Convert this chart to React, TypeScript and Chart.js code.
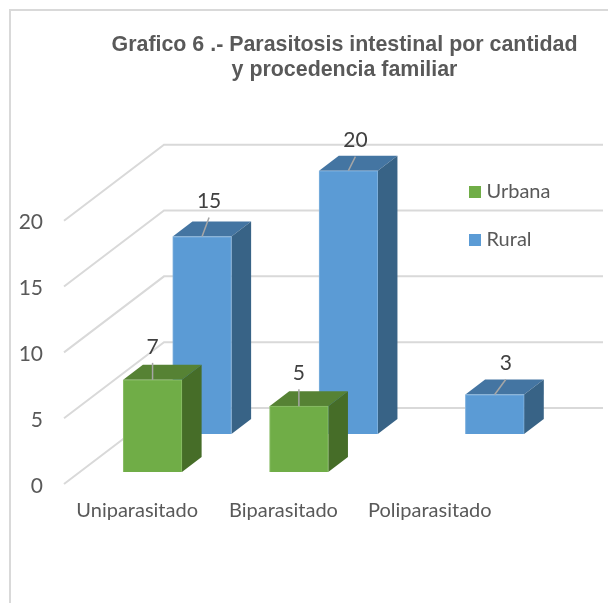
import React, { useEffect, useRef } from "react";
import { Chart, registerables } from "chart.js";

Chart.register(...registerables);

const categories = ["Uniparasitado", "Biparasitado", "Poliparasitado"];
const urbana = [7, 5, null];
const rural = [15, 20, 3];
const titleLines = ["Grafico 6 .- Parasitosis intestinal por cantidad", "y procedencia familiar"];
const yTicks = [0, 5, 10, 15, 20];

const WALL = { dx: 100, dy: -76, right: 603 };
const SERIES_SHIFT = [{ x: 15.4, y: -12 }, { x: 64.9, y: -50 }];
const BAR_DEPTH = { dx: 19.7, dy: -15 };
const FACES = [
  { top: "#568234", side: "#466D28" },
  { top: "#4475A2", side: "#386386" },
];
const LEADERS = [
  [{ dx: 0, dy: -17 }, { dx: 0, dy: -17 }, null],
  [{ dx: 7, dy: -19 }, { dx: 7, dy: -14 }, { dx: 11, dy: -15 }],
];

const poly = (ctx: CanvasRenderingContext2D, pts: number[][], fill: string) => {
  ctx.beginPath();
  pts.forEach(([x, y], i) => (i ? ctx.lineTo(x, y) : ctx.moveTo(x, y)));
  ctx.closePath();
  ctx.fillStyle = fill;
  ctx.fill();
};

const pseudo3d = {
  id: "pseudo3d",
  afterLayout(chart: any) {
    chart.titleBlock.left = 81;
    chart.titleBlock.right = 608;
    const lg = chart.legend;
    const w = lg.width, h = lg.height;
    lg.left = 473.5 - lg.options.labels.padding;
    lg.top = 154;
    lg.right = lg.left + w;
    lg.bottom = lg.top + h + 60;
  },
  beforeDatasetsDraw(chart: any) {
    const { ctx, scales } = chart;
    const left = scales.x.left;
    ctx.save();
    ctx.strokeStyle = "#D9D9D9";
    ctx.lineWidth = 2;
    ctx.beginPath();
    ctx.moveTo(10, 603);
    ctx.lineTo(10, 10);
    ctx.lineTo(608, 10);
    ctx.stroke();
    yTicks.forEach((v) => {
      const y = scales.y.getPixelForValue(v);
      ctx.beginPath();
      ctx.moveTo(left, y);
      ctx.lineTo(left + WALL.dx, y + WALL.dy);
      ctx.lineTo(WALL.right, y + WALL.dy);
      ctx.stroke();
    });
    ctx.restore();
  },
  beforeDatasetDraw(chart: any, args: any) {
    const { ctx } = chart;
    const s = SERIES_SHIFT[args.index];
    ctx.save();
    ctx.translate(s.x, s.y);
    const f = FACES[args.index];
    args.meta.data.forEach((el: any, i: number) => {
      if (chart.data.datasets[args.index].data[i] == null) return;
      const l = el.x - el.width / 2, r = el.x + el.width / 2;
      const { dx, dy } = BAR_DEPTH;
      poly(ctx, [[l, el.y], [r, el.y], [r + dx, el.y + dy], [l + dx, el.y + dy]], f.top);
      poly(ctx, [[r, el.y], [r + dx, el.y + dy], [r + dx, el.base + dy], [r, el.base]], f.side);
    });
  },
  afterDatasetDraw(chart: any) {
    chart.ctx.restore();
  },
  afterDatasetsDraw(chart: any) {
    const { ctx } = chart;
    ctx.save();
    chart.data.datasets.forEach((ds: any, d: number) => {
      const s = SERIES_SHIFT[d];
      chart.getDatasetMeta(d).data.forEach((el: any, i: number) => {
        if (ds.data[i] == null) return;
        const lead = LEADERS[d][i]!;
        const x = el.x + s.x, y = el.y + s.y;
        ctx.strokeStyle = "#A6A6A6";
        ctx.lineWidth = 1.5;
        ctx.beginPath();
        ctx.moveTo(x, y);
        ctx.lineTo(x + lead.dx, y + lead.dy);
        ctx.stroke();
        ctx.fillStyle = "#404040";
        ctx.font = "21px Lato";
        ctx.textAlign = "center";
        ctx.textBaseline = "middle";
        ctx.fillText(String(ds.data[i]), x + lead.dx, y + lead.dy - 16);
      });
    });
    ctx.restore();
  },
};

export default function App() {
  const ref = useRef<HTMLCanvasElement>(null);
  useEffect(() => {
    const chart = new Chart(ref.current!, {
      type: "bar",
      data: {
        labels: categories,
        datasets: [
          { label: "Urbana", data: urbana, backgroundColor: "#70AD47", borderColor: "#8CBF6A", borderWidth: 1, grouped: false, barThickness: 58.7, clip: false } as any,
          { label: "Rural", data: rural, backgroundColor: "#5B9BD5", borderColor: "#7FB1DE", borderWidth: 1, grouped: false, barThickness: 58.7, clip: false } as any,
        ],
      },
      options: {
        animation: false,
        responsive: false,
        devicePixelRatio: 1,
        layout: { padding: { left: 0, right: 105, top: 0, bottom: 0 } },
        plugins: {
          tooltip: { enabled: false },
          title: {
            display: true,
            text: titleLines,
            color: "#595959",
            font: { family: "'Liberation Sans'", size: 21.4, weight: "bold", lineHeight: 1.145 },
            padding: { top: 33, bottom: 138.7 },
          },
          legend: {
            position: "chartArea",
            align: "start",
            labels: {
              boxWidth: 3,
              boxHeight: 12,
              padding: 28,
              usePointStyle: true,
              pointStyle: "rect",
              color: "#595959",
              font: { family: "Lato", size: 20 },
              generateLabels: (chart: any) =>
                chart.data.datasets.map((ds: any, i: number) => ({
                  text: ds.label,
                  fillStyle: ds.backgroundColor,
                  strokeStyle: ds.backgroundColor,
                  lineWidth: 0,
                  pointStyle: "rect",
                  datasetIndex: i,
                  fontColor: "#595959",
                })),
            },
          },
        },
        scales: {
          x: {
            grid: { display: false },
            border: { display: false },
            ticks: { color: "#595959", font: { family: "Lato", size: 20 }, padding: 7, maxRotation: 0, autoSkip: false },
            afterFit(s: any) { s.height = 119; },
          },
          y: {
            min: 0,
            max: 20,
            grid: { display: false },
            border: { display: false },
            ticks: { stepSize: 5, color: "#595959", font: { family: "Lato", size: 21 }, padding: 13, labelOffset: 2 },
            afterFit(s: any) { s.width = 64; },
          },
        },
      },
      plugins: [pseudo3d],
    } as any);
    return () => chart.destroy();
  }, []);
  return (
    <canvas ref={ref} width={608} height={603} style={{ position: "absolute", left: 0, top: 0, width: 608, height: 603 }} />
  );
}
